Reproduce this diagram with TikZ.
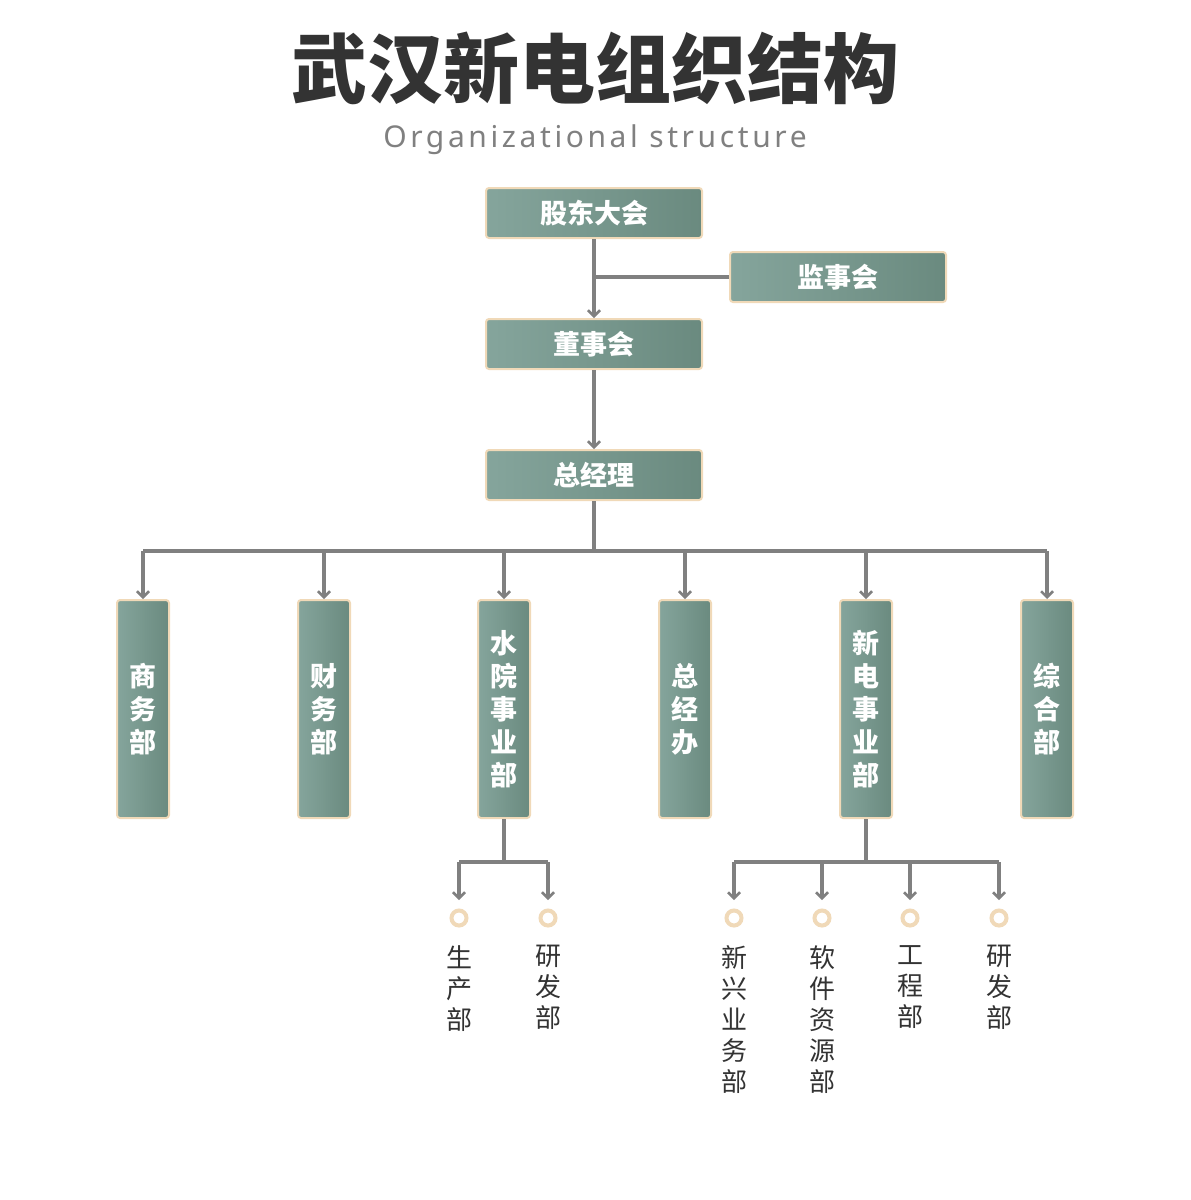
\documentclass[tikz,border=0pt]{standalone}
\usepackage{fontspec}
\setmainfont{Noto Sans}
\newfontfamily\cjk{Noto Sans CJK SC}
\usetikzlibrary{arrows.meta, positioning}
\definecolor{BoxL}{HTML}{85A59C}
\definecolor{BoxR}{HTML}{6A8A7F}
\definecolor{Rim}{HTML}{F0D9B8}
\definecolor{Wire}{HTML}{808080}
\definecolor{Ink}{HTML}{333333}

\begin{document}
\begin{tikzpicture}[x=1pt, y=-1pt]
	\tikzstyle{hbox} = [draw=Rim, line width=2pt, rounded corners=3pt, left color=BoxL, right color=BoxR,
		minimum width=216pt, minimum height=50pt, text=white, font=\cjk\bfseries\fontsize{27}{27}\selectfont]
	\tikzstyle{vbox} = [draw=Rim, line width=2pt, rounded corners=3pt, left color=BoxL, right color=BoxR,
		minimum width=52pt, minimum height=218pt, text=white, align=center, font=\cjk\bfseries\fontsize{27}{33}\selectfont]
	\tikzstyle{wire} = [draw=Wire, line width=3.5pt]
	\tikzstyle{arr} = [wire, -{Straight Barb[length=6pt, width=12pt, line width=2.5pt]}]
	\tikzstyle{dot} = [circle, draw=Rim, line width=4pt, minimum size=15pt, inner sep=0pt]
	\tikzstyle{leaf} = [anchor=north, align=center, text=Ink, font=\cjk\fontsize{26}{31}\selectfont]

	\useasboundingbox (0,0) rectangle (1191,1200);
	\fill[white] (0,0) rectangle (1191,1200);

	\node[text=Ink, font=\cjk\bfseries\fontsize{76}{76}\selectfont] (title) at (595,68) {武汉新电组织结构};
	\node[text=Wire, font=\fontsize{30}{30}\selectfont\addfontfeature{LetterSpace=12}] (sub) at (595,140) {Organizational structure};

	\node[hbox] (gd) at (594,213) {股东大会};
	\node[hbox] (js) at (838,277) {监事会};
	\node[hbox] (ds) at (594,344) {董事会};
	\node[hbox] (zj) at (594,475) {总经理};

	\node[vbox] (swb) at (143,709) {商\\务\\部};
	\node[vbox] (cwb) at (324,709) {财\\务\\部};
	\node[vbox] (sy) at (504,709) {水\\院\\事\\业\\部};
	\node[vbox] (zjb) at (685,709) {总\\经\\办};
	\node[vbox] (xd) at (866,709) {新\\电\\事\\业\\部};
	\node[vbox] (zh) at (1047,709) {综\\合\\部};

	\draw[arr] (gd) -- (ds);
	\draw[wire] (js.west) -- (594,277);
	\draw[arr] (ds) -- (zj);
	\draw[wire] (zj.south) -- (594,551);
	\draw[wire] (143,551) -- (1047,551);
	\foreach \n in {swb,cwb,sy,zjb,xd,zh}
		\draw[arr] (\n.north |- 0,551) -- (\n.north);

	% sub departments
	\draw[wire] (sy.south) -- (504,862);
	\draw[wire] (459,862) -- (548,862);
	\draw[wire] (xd.south) -- (866,862);
	\draw[wire] (734,862) -- (999,862);
	\foreach \x/\n/\t in {459/a/生\\产\\部, 548/b/研\\发\\部, 734/c/新\\兴\\业\\务\\部,
		822/d/软\\件\\资\\源\\部, 910/e/工\\程\\部, 999/f/研\\发\\部} {
		\node[dot] (c\n) at (\x,918) {};
		\draw[arr] (\x,862) -- (\x,900);
		\node[leaf] (l\n) at (\x,942) {\t};
	}
\end{tikzpicture}
\end{document}
